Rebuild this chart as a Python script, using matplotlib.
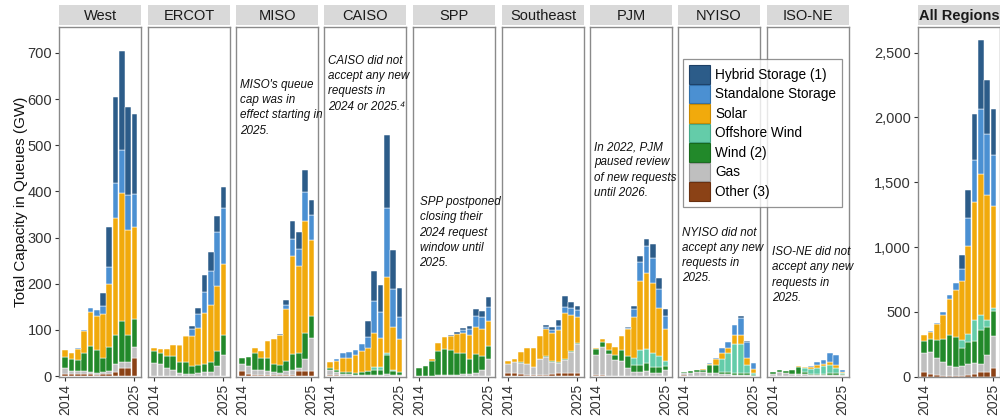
import matplotlib
matplotlib.use("Agg")
import matplotlib.pyplot as plt
import numpy as np
from matplotlib.patches import Patch
from matplotlib.ticker import FuncFormatter

plt.rcParams['font.family'] = ['Liberation Sans', 'DejaVu Sans']

years = np.arange(2014, 2026)
categories = ["Other (3)", "Gas", "Wind (2)", "Offshore Wind", "Solar",
              "Standalone Storage", "Hybrid Storage (1)"]
colors = {"Other (3)": "#8b4216", "Gas": "#bfbfbf", "Wind (2)": "#22892a",
          "Offshore Wind": "#64cca9", "Solar": "#f1aa0c",
          "Standalone Storage": "#4b90d2", "Hybrid Storage (1)": "#2c5c89"}
edge_keys = {"Other (3)": "#6a3010", "Gas": "#9a9a9a", "Wind (2)": "#17691d",
             "Offshore Wind": "#45a888", "Solar": "#c98a00",
             "Standalone Storage": "#3270aa", "Hybrid Storage (1)": "#1d4066"}

# order of lists: Other, Gas, Wind, Offshore Wind, Solar, Standalone, Hybrid
west = {
    "Other (3)":          [5, 4, 4, 4, 4, 3, 4, 5, 9, 17, 17, 40],
    "Gas":                [13, 8, 8, 8, 5, 4, 4, 7, 18, 14, 14, 23],
    "Wind (2)":           [24, 24, 23, 38, 56, 49, 32, 51, 62, 89, 59, 60],
    "Offshore Wind":      [0, 0, 0, 0, 0, 0, 0, 0, 0, 0, 0, 0],
    "Solar":              [14, 14, 24, 47, 73, 74, 95, 137, 254, 277, 226, 199],
    "Standalone Storage": [0, 0, 1, 3, 10, 13, 16, 36, 76, 92, 76, 72],
    "Hybrid Storage (1)": [0, 0, 0, 0, 0, 0, 30, 86, 186, 216, 191, 173],
}
ercot = {
    "Other (3)":          [0, 0, 0, 0, 0, 0, 0, 0, 0, 0, 0, 0],
    "Gas":                [29, 27, 17, 13, 6, 4, 4, 7, 9, 9, 22, 46],
    "Wind (2)":           [25, 24, 27, 30, 25, 27, 18, 17, 18, 22, 32, 44],
    "Offshore Wind":      [0, 0, 0, 0, 0, 0, 0, 0, 0, 0, 0, 0],
    "Solar":              [6, 7, 14, 25, 36, 55, 65, 81, 109, 122, 140, 152],
    "Standalone Storage": [0, 0, 0, 0, 1, 1, 14, 29, 47, 75, 117, 121],
    "Hybrid Storage (1)": [0, 0, 0, 0, 0, 0, 7, 13, 35, 41, 35, 46],
}
miso = {
    "Other (3)":          [12, 4, 3, 3, 3, 3, 2, 2, 3, 10, 11, 11],
    "Gas":                [14, 18, 11, 10, 9, 6, 4, 10, 11, 8, 27, 71],
    "Wind (2)":           [14, 20, 37, 26, 28, 18, 18, 21, 33, 31, 55, 48],
    "Offshore Wind":      [0, 0, 0, 0, 0, 0, 0, 0, 0, 0, 0, 0],
    "Solar":              [0, 0, 10, 15, 36, 53, 64, 112, 214, 190, 242, 165],
    "Standalone Storage": [0, 0, 0, 0, 0, 0, 2, 10, 35, 36, 63, 54],
    "Hybrid Storage (1)": [0, 0, 0, 0, 0, 0, 2, 10, 40, 36, 49, 33],
}
caiso = {
    "Other (3)":          [3, 2, 0, 0, 0, 0, 0, 0, 0, 0, 0, 0],
    "Gas":                [10, 7, 4, 4, 2, 2, 2, 2, 2, 4, 3, 2],
    "Wind (2)":           [5, 4, 5, 4, 5, 7, 9, 11, 11, 41, 9, 7],
    "Offshore Wind":      [0, 0, 0, 0, 0, 0, 1, 6, 6, 6, 1, 0],
    "Solar":              [13, 20, 31, 32, 38, 45, 48, 74, 64, 163, 93, 71],
    "Standalone Storage": [0, 4, 9, 13, 11, 15, 24, 70, 55, 150, 82, 47],
    "Hybrid Storage (1)": [0, 0, 0, 0, 0, 0, 36, 65, 59, 158, 84, 63],
}
spp = {
    "Other (3)":          [0, 0, 0, 0, 0, 0, 0, 0, 0, 0, 0, 0],
    "Gas":                [0, 0, 0, 2, 2, 2, 3, 4, 4, 6, 13, 36],
    "Wind (2)":           [17, 22, 33, 53, 56, 54, 46, 45, 34, 42, 30, 29],
    "Offshore Wind":      [0, 0, 0, 0, 0, 0, 0, 0, 0, 0, 0, 0],
    "Solar":              [0, 0, 3, 17, 26, 31, 42, 44, 52, 59, 60, 55],
    "Standalone Storage": [0, 0, 0, 0, 0, 0, 0, 7, 13, 24, 26, 30],
    "Hybrid Storage (1)": [0, 0, 0, 0, 0, 2, 5, 5, 5, 14, 13, 21],
}
southeast = {
    "Other (3)":          [7, 7, 4, 2, 2, 2, 2, 5, 6, 6, 6, 6],
    "Gas":                [20, 24, 25, 24, 18, 35, 40, 26, 23, 28, 46, 63],
    "Wind (2)":           [0, 0, 1, 0, 0, 1, 1, 2, 2, 3, 3, 3],
    "Offshore Wind":      [0, 0, 0, 0, 0, 0, 0, 0, 0, 0, 0, 0],
    "Solar":              [6, 6, 23, 35, 40, 49, 58, 61, 69, 100, 77, 55],
    "Standalone Storage": [0, 0, 0, 0, 0, 0, 6, 6, 8, 13, 15, 16],
    "Hybrid Storage (1)": [0, 0, 0, 0, 0, 0, 4, 6, 13, 24, 14, 9],
}
pjm = {
    "Other (3)":          [3, 3, 0, 0, 0, 0, 0, 0, 0, 0, 0, 0],
    "Gas":                [43, 60, 48, 35, 33, 17, 9, 9, 12, 7, 7, 13],
    "Wind (2)":           [12, 11, 8, 11, 23, 26, 15, 16, 17, 13, 13, 9],
    "Offshore Wind":      [0, 0, 0, 0, 0, 0, 16, 31, 30, 29, 23, 11],
    "Solar":              [3, 6, 15, 18, 31, 58, 89, 149, 165, 152, 104, 70],
    "Standalone Storage": [0, 0, 0, 0, 0, 4, 16, 41, 58, 54, 41, 28],
    "Hybrid Storage (1)": [0, 0, 0, 0, 0, 1, 7, 13, 15, 31, 24, 14],
}
nyiso = {
    "Other (3)":          [3, 0, 0, 0, 0, 0, 0, 0, 0, 0, 0, 0],
    "Gas":                [3, 7, 9, 9, 6, 7, 4, 4, 3, 2, 2, 1],
    "Wind (2)":           [3, 5, 4, 4, 17, 17, 5, 5, 4, 4, 4, 2],
    "Offshore Wind":      [0, 0, 0, 0, 0, 0, 27, 40, 62, 63, 18, 4],
    "Solar":              [0, 0, 0, 2, 4, 12, 13, 11, 20, 20, 16, 8],
    "Standalone Storage": [0, 0, 0, 0, 2, 4, 11, 14, 22, 36, 33, 14],
    "Hybrid Storage (1)": [0, 0, 0, 0, 0, 0, 0, 0, 0, 6, 4, 0],
}
isone = {
    "Other (3)":          [0, 0, 0, 0, 0, 0, 0, 0, 0, 0, 0, 0],
    "Gas":                [5, 9, 6, 4, 4, 4, 2, 2, 2, 3, 3, 2],
    "Wind (2)":           [4, 4, 6, 9, 16, 5, 2, 2, 3, 3, 3, 2],
    "Offshore Wind":      [0, 0, 0, 0, 0, 8, 12, 14, 17, 18, 12, 3],
    "Solar":              [0, 0, 0, 0, 2, 2, 4, 6, 4, 7, 6, 1],
    "Standalone Storage": [0, 0, 0, 0, 0, 1, 2, 7, 9, 20, 22, 5],
    "Hybrid Storage (1)": [0, 0, 0, 0, 0, 0, 0, 0, 0, 0, 0, 0],
}
all_regions = {
    "Other (3)":          [33, 20, 13, 8, 5, 5, 8, 15, 20, 33, 33, 67],
    "Gas":                [147, 168, 131, 103, 80, 72, 77, 83, 83, 65, 137, 250],
    "Wind (2)":           [93, 103, 139, 180, 239, 227, 136, 167, 175, 265, 211, 193],
    "Offshore Wind":      [0, 0, 0, 0, 0, 0, 62, 65, 160, 116, 57, 20],
    "Solar":              [51, 56, 124, 188, 276, 365, 459, 682, 909, 1086, 960, 783],
    "Standalone Storage": [0, 5, 5, 18, 31, 54, 90, 214, 321, 502, 471, 394],
    "Hybrid Storage (1)": [0, 0, 0, 0, 0, 0, 110, 211, 361, 528, 422, 360],
}

regions = ["West", "ERCOT", "MISO", "CAISO", "SPP", "Southeast", "PJM", "NYISO", "ISO-NE"]
region_data = [west, ercot, miso, caiso, spp, southeast, pjm, nyiso, isone]

notes = {
    "MISO": ("MISO's queue\ncap was in\neffect starting in\n2025.", 0.05, 0.852),
    "CAISO": ("CAISO did not\naccept any new\nrequests in\n2024 or 2025.\u2074", 0.05, 0.92),
    "SPP": ("SPP postponed\nclosing their\n2024 request\nwindow until\n2025.", 0.08, 0.517),
    "PJM": ("In 2022, PJM\npaused review\nof new requests\nuntil 2026.", 0.05, 0.674),
    "NYISO": ("NYISO did not\naccept any new\nrequests in\n2025.", 0.05, 0.43),
    "ISO-NE": ("ISO-NE did not\naccept any new\nrequests in\n2025.", 0.06, 0.374),
}

W, H = 1000, 420
fig = plt.figure(figsize=(W / 100, H / 100), dpi=100)

panel_top, panel_bot = 27, 377
strip_top, strip_bot = 5, 25
pw = 82
tick_col = "#333333"
spine_col = "#8a8a8a"


def draw_panel(left_px, data, title, ylim, bold=False):
    ax = fig.add_axes([left_px / W, (H - panel_bot) / H, pw / W,
                       (panel_bot - panel_top) / H])
    bottom = np.zeros(len(years))
    for cat in categories:
        vals = np.array(data[cat], dtype=float)
        m = vals > 0
        if m.any():
            ax.bar(years[m], vals[m], bottom=bottom[m], width=0.9,
                   color=colors[cat], edgecolor="white", linewidth=0.35,
                   zorder=2)
        bottom += vals
    ax.set_xlim(2013.0, 2026.05)
    ax.set_ylim(*ylim)
    ax.set_xticks([2014, 2025])
    ax.set_xticklabels(["2014", "2025"], rotation=90, fontsize=10,
                       color=tick_col)
    ax.tick_params(axis="x", length=3, width=0.8, color=tick_col, pad=2)
    for s in ax.spines.values():
        s.set_color(spine_col)
        s.set_linewidth(1.0)
    sax = fig.add_axes([left_px / W, (H - strip_bot) / H, pw / W,
                        (strip_bot - strip_top) / H])
    sax.set_facecolor("#d9d9d9")
    sax.set_xticks([])
    sax.set_yticks([])
    for s in sax.spines.values():
        s.set_visible(False)
    sax.text(0.5, 0.45, title, ha="center", va="center", fontsize=10.5,
             color="#1a1a1a", fontweight="bold" if bold else "normal",
             transform=sax.transAxes)
    return ax


lefts = [59, 148, 236, 324, 413, 502, 590, 678, 767]
for i, (name, data) in enumerate(zip(regions, region_data)):
    ax = draw_panel(lefts[i], data, name, (-2, 756))
    if i == 0:
        ax.set_yticks(range(0, 701, 100))
        ax.tick_params(axis="y", labelsize=10.5, colors=tick_col, length=3,
                       width=0.8, pad=2)
    else:
        ax.set_yticks([])
    if name in notes:
        txt, tx, ty = notes[name]
        ax.text(tx, ty, txt, transform=ax.transAxes, ha="left", va="top",
                fontsize=8.4, style="italic", color="#111111",
                linespacing=1.36)

axa = draw_panel(918, all_regions, "All Regions", (-2, 2697), bold=True)
axa.set_yticks(range(0, 2501, 500))
axa.yaxis.set_major_formatter(FuncFormatter(lambda v, p: f"{int(v):,}"))
axa.tick_params(axis="y", labelsize=10.5, colors=tick_col, length=3,
                width=0.8, pad=2)

fig.text(0.021, (H - 202) / H, "Total Capacity in Queues (GW)", rotation=90,
         ha="center", va="center", fontsize=11, color="#111111")

handles = [Patch(facecolor=colors[c], edgecolor=edge_keys[c], linewidth=0.8)
           for c in reversed(categories)]
labels = list(reversed(categories))
leg = fig.legend(handles, labels, loc="upper left",
                 bbox_to_anchor=(683 / W, 1 - 59 / H), fontsize=9.8,
                 frameon=True, fancybox=False, edgecolor="#777777",
                 handlelength=1.55, handleheight=1.75, labelspacing=0.05,
                 handletextpad=0.35, borderpad=0.45, borderaxespad=0)
leg.get_frame().set_linewidth(0.9)

fig.savefig("out.png", dpi=100)
